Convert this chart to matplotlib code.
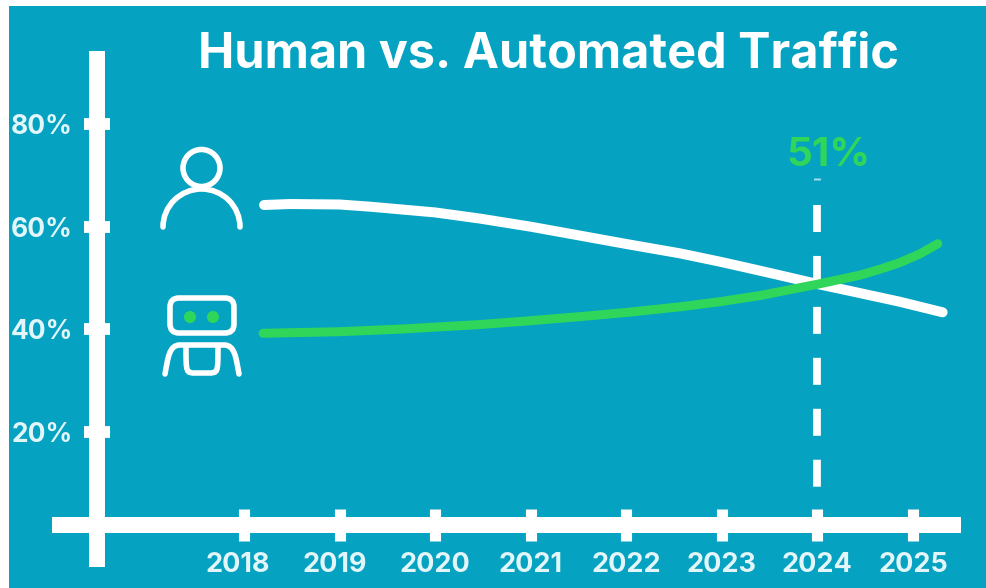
import matplotlib
matplotlib.use("Agg")
import matplotlib.pyplot as plt
from matplotlib.patches import Arc, Circle, FancyBboxPatch, PathPatch
from matplotlib.path import Path
from matplotlib.transforms import ScaledTranslation

plt.rcParams["font.family"] = ["Inter", "DejaVu Sans"]

BG = "#05a2c1"
WHITE = "#ffffff"
GREEN = "#2fd65a"
LABEL = "#e2f5f8"

years = [2018, 2019, 2020, 2021, 2022, 2023, 2024, 2025]
pct_ticks = [20, 40, 60, 80]
pct_labels = ["20%", "40%", "60%", "80%"]

human_x = [2018.21, 2018.48, 2019.0, 2019.32, 2020.0, 2020.47, 2021.0, 2021.52, 2022.0,
           2022.56, 2022.98, 2023.4, 2023.82, 2024.0, 2024.34, 2024.86, 2025.31]
human_y = [64.25, 64.44, 64.35, 63.92, 62.8, 61.6, 60.02, 58.27, 56.65,
           54.83, 53.2, 51.44, 49.63, 48.85, 47.5, 45.4, 43.33]
bot_x = [2018.2, 2019.0, 2019.63, 2020.47, 2021.0, 2021.52, 2022.0, 2022.56, 2022.98,
         2023.4, 2024.0, 2024.45, 2024.65, 2024.86, 2025.07, 2025.26]
bot_y = [39.24, 39.55, 40.05, 40.95, 41.7, 42.5, 43.3, 44.4, 45.4,
         46.6, 48.8, 50.6, 51.7, 53.0, 54.7, 56.7]

PX_YEAR = 95.57
PX_PCT = 5.13


def px_x(px):
    return 2018 + (px - 244) / PX_YEAR


def px_y(py):
    return (534.6 - py) / PX_PCT


fig = plt.figure(figsize=(9.86, 5.88), dpi=100, facecolor="white")
ax = fig.add_axes([9 / 986, 0, 977 / 986, 582 / 588], facecolor=BG)
ax.set_xlim(px_x(9), px_x(986))
ax.set_ylim(px_y(588), px_y(6))

for name in ["top", "right"]:
    ax.spines[name].set_visible(False)
ax.spines["left"].set_position(("data", px_x(97)))
ax.spines["left"].set_bounds(px_y(567), px_y(51))
ax.spines["bottom"].set_position(("data", px_y(525)))
ax.spines["bottom"].set_bounds(px_x(52), px_x(961))
for name in ["left", "bottom"]:
    ax.spines[name].set_color(WHITE)
    ax.spines[name].set_capstyle("butt")
    ax.spines[name].set_linewidth(11.5)

ax.set_xticks(years)
ax.set_xticklabels([str(y) for y in years])
ax.set_yticks(pct_ticks)
ax.set_yticklabels(pct_labels)
ax.tick_params(axis="x", direction="inout", length=23, width=8, color=WHITE, pad=8,
               labelsize=19.5, labelcolor=LABEL)
ax.tick_params(axis="y", direction="inout", length=19, width=8.5, color=WHITE, pad=8,
               labelsize=19, labelcolor=LABEL)
for lab in ax.get_xticklabels() + ax.get_yticklabels():
    lab.set_fontweight("bold")

# first two year labels sit a little left of their ticks
for lab, shift in zip(ax.get_xticklabels()[:2], [-6, -5]):
    lab.set_transform(lab.get_transform() + ScaledTranslation(shift / 100, 0, fig.dpi_scale_trans))

ax.plot([2024, 2024], [px_y(205), px_y(517)], color=WHITE, lw=5.6, zorder=2,
        dashes=(3.47, 3.08), dash_capstyle="butt")
ax.plot([2024, 2024], [px_y(180), px_y(178)], color="#9fdcec", lw=5, zorder=2,
        solid_capstyle="butt")
ax.plot(human_x, human_y, color=WHITE, lw=7.2, solid_capstyle="round",
        solid_joinstyle="round", zorder=3)
ax.plot(bot_x, bot_y, color=GREEN, lw=6.5, solid_capstyle="round",
        solid_joinstyle="round", zorder=4)

ax.text(px_x(828), px_y(156), "51%", color=GREEN, fontsize=29, fontweight="bold",
        ha="center", va="center")
ax.text(px_x(548), px_y(54.5), "Human vs. Automated Traffic", color=WHITE, fontsize=35,
        fontweight="bold", ha="center", va="center")

# icons are drawn in pixel coordinates
icons = fig.add_axes([0, 0, 1, 1], facecolor="none")
icons.set_xlim(0, 986)
icons.set_ylim(588, 0)
icons.axis("off")

ICON_LW = 4.0
icons.add_patch(Circle((201.5, 168), 18.5, fill=False, ec=WHITE, lw=ICON_LW))
icons.add_patch(Arc((201.5, 227), 77, 76, theta1=180, theta2=360, ec=WHITE, lw=ICON_LW,
                    capstyle="round"))
icons.add_patch(FancyBboxPatch((177, 305), 50, 21, boxstyle="round,pad=7,rounding_size=9",
                               fill=False, ec=WHITE, lw=ICON_LW))
icons.add_patch(Circle((190, 317), 6, fc=GREEN, ec="none"))
icons.add_patch(Circle((213, 317), 6, fc=GREEN, ec="none"))
shoulders = Path(
    [(165, 374), (168, 358), (169, 345), (180, 345), (224, 345), (235, 345), (236, 358), (239, 374)],
    [Path.MOVETO, Path.CURVE4, Path.CURVE4, Path.CURVE4, Path.LINETO, Path.CURVE4, Path.CURVE4, Path.CURVE4],
)
icons.add_patch(PathPatch(shoulders, fill=False, ec=WHITE, lw=ICON_LW, capstyle="round"))
belly = Path(
    [(186, 347), (186, 373), (186, 373), (196, 373), (208, 373), (218, 373), (218, 373), (218, 347)],
    [Path.MOVETO, Path.CURVE4, Path.CURVE4, Path.CURVE4, Path.LINETO, Path.CURVE4, Path.CURVE4, Path.CURVE4],
)
icons.add_patch(PathPatch(belly, fill=False, ec=WHITE, lw=ICON_LW, capstyle="round"))

fig.savefig("out.png", dpi=100, facecolor=fig.get_facecolor())
